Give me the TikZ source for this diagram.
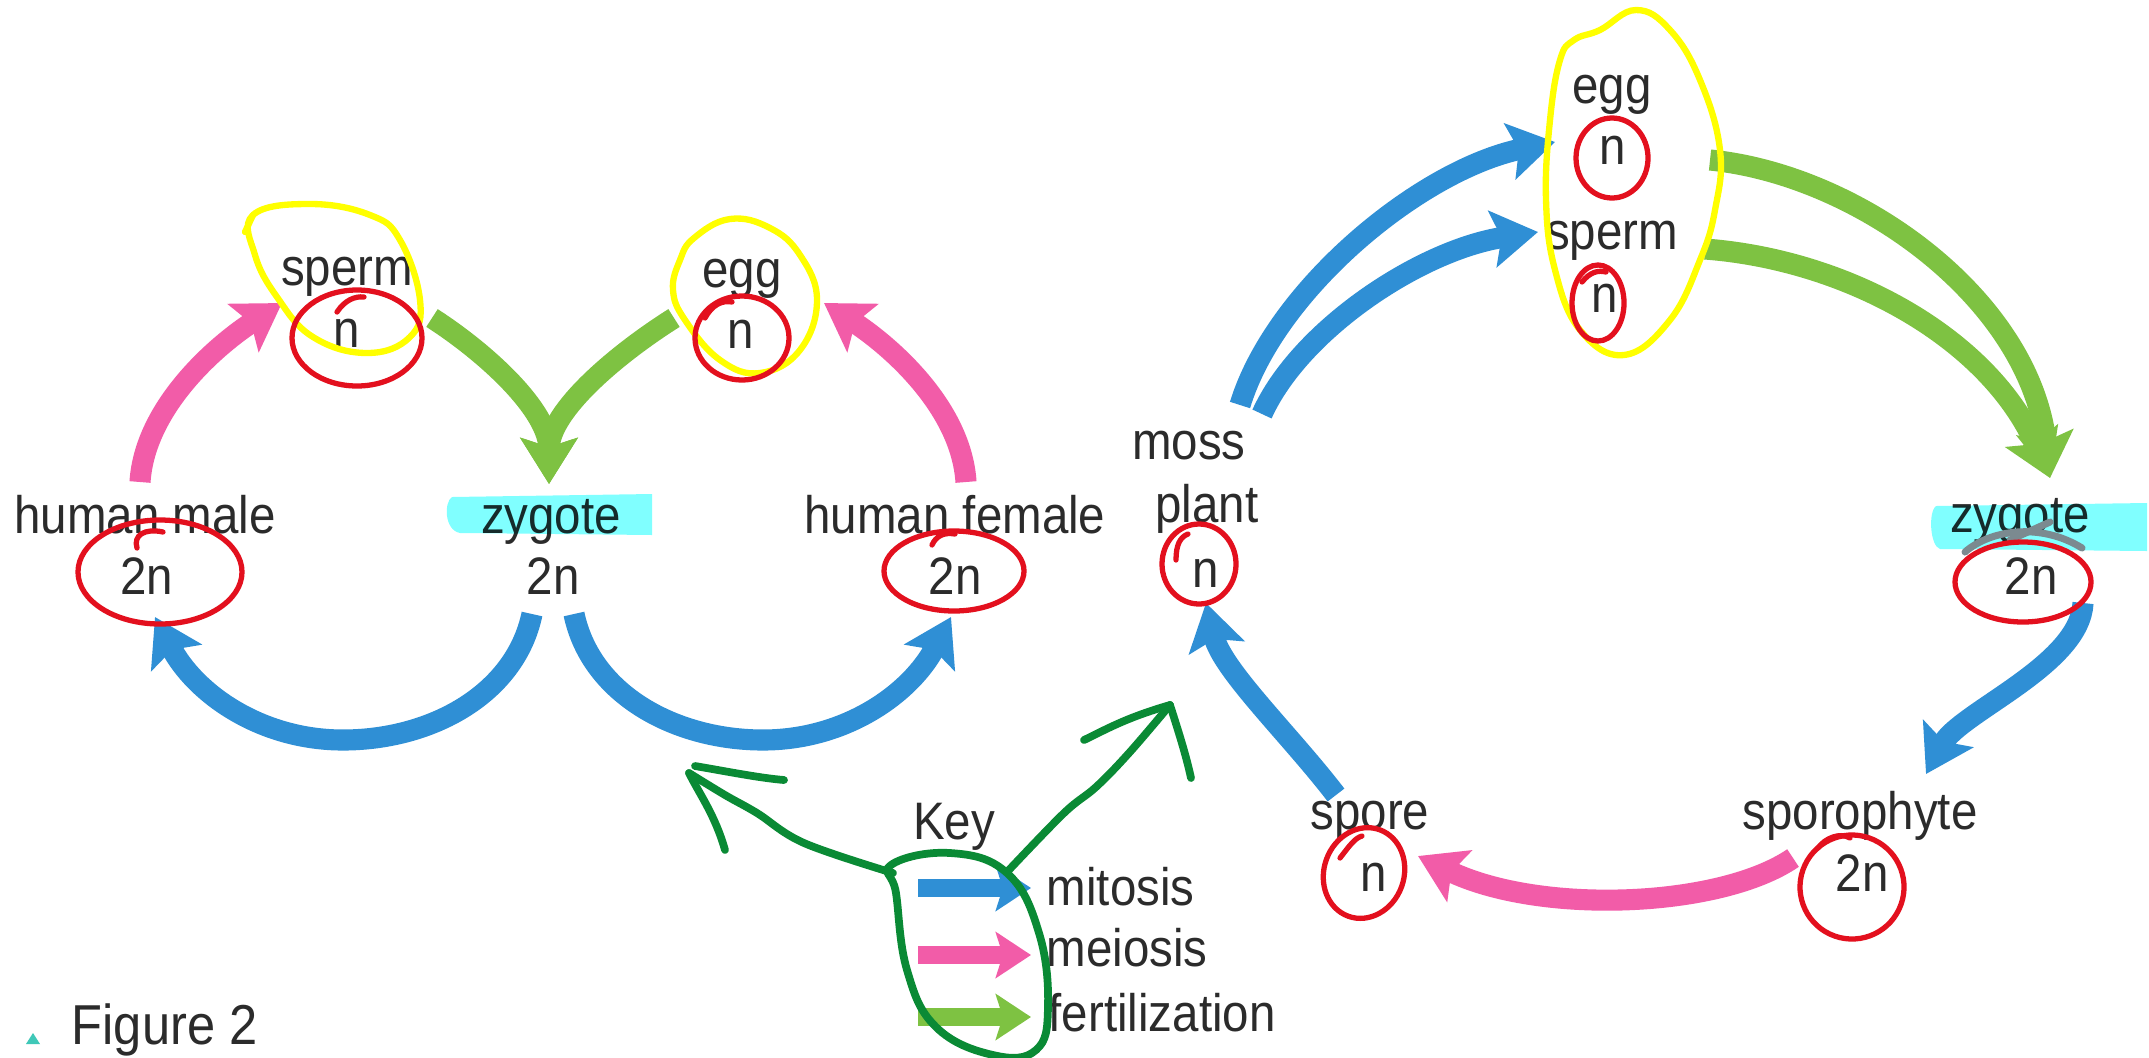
\documentclass[tikz,border=0pt]{standalone}
\usepackage{fontspec}
\setmainfont{Liberation Sans}[FakeStretch=0.9]
\usetikzlibrary{arrows.meta}
\definecolor{mblue}{HTML}{2F8FD5}
\definecolor{mpink}{HTML}{F25CA8}
\definecolor{mgreen}{HTML}{7EC242}
\definecolor{txt}{HTML}{2B2B2B}
\definecolor{pred}{HTML}{E3101E}
\definecolor{pyel}{HTML}{FFFF00}
\definecolor{pcyan}{HTML}{80FFFF}
\definecolor{pgreen}{HTML}{0A8A35}
\definecolor{pgrey}{HTML}{7B8A90}
\definecolor{figteal}{HTML}{3FC8B8}
\begin{document}
\begin{tikzpicture}[x=0.01cm, y=-0.01cm,
  lbl/.style={inner sep=0pt, text=txt, font=\fontsize{15}{18}\selectfont, anchor=base},
  keylbl/.style={lbl, anchor=base west},
  flow/.style={line width=6pt, -{Stealth[length=13pt,width=16pt,inset=2.5pt]}},
  keyarrow/.style={line width=5pt, -{Stealth[length=10pt,width=13pt,inset=2pt]}},
  redring/.style={draw=pred, line width=1.5pt, line cap=round},
  yelring/.style={draw=pyel, line width=1.8pt, line cap=round},
  pen/.style={draw=pgreen, line width=2.2pt, line cap=round, line join=round},
]
\useasboundingbox[fill=white] (0,0) rectangle (2149,1057);

% ---------- labels ----------
\node[lbl] (spL)  at (347,285) {sperm};
\node[lbl] (spLn) at (347,347) {n};
\node[lbl] (egL)  at (742,287) {egg};
\node[lbl] (egLn) at (741,348) {n};
\node[lbl] (hm)   at (145,533) {human male};
\node[lbl] (hmn)  at (147,594) {2n};
\node[lbl] (zgL)  at (551,533) {zygote};
\node[lbl] (zgLn) at (553,594) {2n};
\node[lbl] (hf)   at (955,533) {human female};
\node[lbl] (hfn)  at (955,594) {2n};
\node[lbl] (ms)   at (1189,459) {moss};
\node[lbl] (pl)   at (1207,522) {plant};
\node[lbl] (msn)  at (1206,587) {n};
\node[lbl] (egR)  at (1612,103) {egg};
\node[lbl] (egRn) at (1613,164) {n};
\node[lbl] (spR)  at (1612,249) {sperm};
\node[lbl] (spRn) at (1605,312) {n};
\node[lbl] (zgR)  at (2020,532) {zygote};
\node[lbl] (zgRn) at (2031,594) {2n};
\node[lbl] (sp)   at (1370,829) {spore};
\node[lbl] (spn)  at (1374,891) {n};
\node[lbl] (sph)  at (1860,829) {sporophyte};
\node[lbl] (sphn) at (1862,891) {2n};
\node[lbl] (key)  at (954,839) {Key};
\node[keylbl] (mit) at (1046,905) {mitosis};
\node[keylbl] (mei) at (1046,966) {meiosis};
\node[keylbl] (fer) at (1048,1031) {fertilization};
\node[keylbl, font=\fontsize{16}{19}\selectfont] (fig) at (71,1044) {Figure 2};
\fill[figteal] (26,1044) -- (33,1033) -- (40,1044) -- cycle;

% ---------- arrow end points ----------
\coordinate (a1s) at (140,482);  \coordinate (a1e) at (282,303);
\coordinate (a2s) at (966,482);  \coordinate (a2e) at (824,303);
\coordinate (g1s) at (432,318);  \coordinate (g2s) at (674,318);
\coordinate (gLe) at (549,484);
\coordinate (b1s) at (532,614);  \coordinate (b1m) at (343,740); \coordinate (b1e) at (155,617);
\coordinate (b2s) at (574,614);  \coordinate (b2m) at (763,740); \coordinate (b2e) at (951,617);
\coordinate (r1s) at (1240,405); \coordinate (r1e) at (1555,142);
\coordinate (r2s) at (1262,414); \coordinate (r2e) at (1538,232);
\coordinate (r3s) at (1710,160); \coordinate (r4s) at (1705,249);
\coordinate (gRe) at (2050,478);
\coordinate (r5s) at (2083,603); \coordinate (r5e) at (1926,774);
\coordinate (r6s) at (1793,858); \coordinate (r6e) at (1418,856);
\coordinate (r7s) at (1336,795); \coordinate (r7e) at (1206,603);

% ---------- human cycle ----------
\draw[flow, mpink] (a1s) .. controls (145,405) and (220,343) .. (a1e);
\draw[flow, mpink] (a2s) .. controls (961,405) and (886,343) .. (a2e);
\draw[flow, mgreen] (g1s) .. controls (485,352) and (549,410) .. (gLe);
\draw[flow, mgreen] (g2s) .. controls (620,352) and (549,410) .. (gLe);
\draw[flow, mblue] (b1s) .. controls (515,695) and (430,740) .. (b1m)
                         .. controls (260,740) and (195,693) .. (b1e);
\draw[flow, mblue] (b2s) .. controls (591,695) and (676,740) .. (b2m)
                         .. controls (846,740) and (911,693) .. (b2e);

% ---------- moss cycle ----------
\draw[flow, mblue] (r1s) .. controls (1275,290) and (1420,170) .. (r1e);
\draw[flow, mblue] (r2s) .. controls (1300,330) and (1420,250) .. (r2e);
\draw[flow, mgreen] (r3s) .. controls (1860,175) and (2030,300) .. (gRe);
\draw[flow, mgreen] (r4s) .. controls (1850,260) and (1990,340) .. (gRe);
\draw[flow, mblue] (r5s) .. controls (2080,665) and (1960,712) .. (r5e);
\draw[flow, mpink] (r6s) .. controls (1720,908) and (1540,915) .. (r6e);
\draw[flow, mblue] (r7s) .. controls (1290,735) and (1222,670) .. (r7e);

% ---------- key ----------
\coordinate (k1s) at (918,888);  \coordinate (k1e) at (1031,888);
\coordinate (k2s) at (918,955);  \coordinate (k2e) at (1031,955);
\coordinate (k3s) at (918,1017); \coordinate (k3e) at (1031,1017);
\draw[keyarrow, mblue] (k1s) -- (k1e);
\draw[keyarrow, mpink] (k2s) -- (k2e);
\draw[keyarrow, mgreen] (k3s) -- (k3e);

% ---------- highlights ----------
\fill[pcyan, blend mode=multiply] (452,497) .. controls (444,502) and (444,530) .. (460,533)
   -- (652,535) -- (652,494) -- cycle;
\fill[pcyan, blend mode=multiply] (1936,506) .. controls (1928,512) and (1930,546) .. (1940,549)
   -- (2147,551) -- (2147,503) -- cycle;
\draw[pgrey, line width=2pt, line cap=round] (1965,552) .. controls (1990,530) and (2040,522) .. (2082,548);
\draw[pgrey, line width=2pt, line cap=round] (2010,540) -- (2050,522);

% ---------- yellow loops ----------
\draw[yelring] plot[smooth cycle, tension=0.7] coordinates {(253,215) (310,204) (370,215) (400,240) (420,300) (410,337) (367,353) (313,337) (277,297) (255,255)};
\draw[yelring] (245,232) -- (253,215);
\draw[yelring] plot[smooth cycle, tension=0.7] coordinates {(694,238) (730,219) (770,228) (800,255) (817,300) (800,350) (760,373) (720,360) (685,320) (673,290) (680,260)};
\draw[yelring] plot[smooth cycle, tension=0.7] coordinates {(1574,40) (1600,30) (1636,10) (1670,30) (1700,80) (1720,150) (1715,210) (1700,260) (1670,320) (1624,355) (1580,330) (1555,270) (1546,200) (1550,120) (1560,60)};

% ---------- red rings ----------
\draw[redring] (357,338) ellipse [x radius=65, y radius=48];
\draw[redring] (337,312) .. controls (345,300) and (355,296) .. (364,297);
\draw[redring] (742,338) ellipse [x radius=47, y radius=42];
\draw[redring] (705,318) .. controls (712,305) and (722,300) .. (732,302);
\draw[redring] (160,572) ellipse [x radius=82, y radius=52];
\draw[redring] (137,548) .. controls (133,535) and (145,528) .. (163,532);
\draw[redring] (954,571) ellipse [x radius=70, y radius=40];
\draw[redring] (932,545) .. controls (936,536) and (944,532) .. (955,534);
\draw[redring] (1199,564) ellipse [x radius=37, y radius=40];
\draw[redring] (1176,560) .. controls (1176,545) and (1180,537) .. (1188,534);
\draw[redring] (1612,158) ellipse [x radius=36, y radius=40];
\draw[redring] (1598,303) ellipse [x radius=26, y radius=38];
\draw[redring] (1582,282) .. controls (1590,272) and (1598,270) .. (1606,272);
\draw[redring] (2023,582) ellipse [x radius=68, y radius=40];
\draw[redring, rotate around={-20:(1364,873)}] (1364,873) ellipse [x radius=40, y radius=46];
\draw[redring] (1340,858) .. controls (1350,845) and (1355,838) .. (1362,836);
\draw[redring, rotate around={-25:(1852,887)}] (1852,887) ellipse [x radius=52, y radius=52];
\draw[redring] (1818,848) .. controls (1825,838) and (1840,832) .. (1850,838);

% ---------- green pen marks ----------
\draw[pen] plot[smooth cycle, tension=0.7] coordinates {(891,865) (950,853) (1007,873) (1039,933) (1048,1007) (1036,1050) (993,1055) (936,1027) (907,970) (896,893)};
\draw[pen] plot[smooth, tension=0.6] coordinates {(893,873) (804,843) (757,813) (725,795) (689,773)};
\draw[pen] (695,766) .. controls (730,772) and (760,778) .. (784,780);
\draw[pen] (689,773) .. controls (700,795) and (715,815) .. (725,850);
\draw[pen] plot[smooth, tension=0.6] coordinates {(1007,872) (1064,813) (1096,787) (1129,753) (1170,705)};
\draw[pen] (1170,705) .. controls (1125,718) and (1105,730) .. (1084,740);
\draw[pen] (1170,705) .. controls (1178,730) and (1186,755) .. (1191,778);
\end{tikzpicture}
\end{document}
